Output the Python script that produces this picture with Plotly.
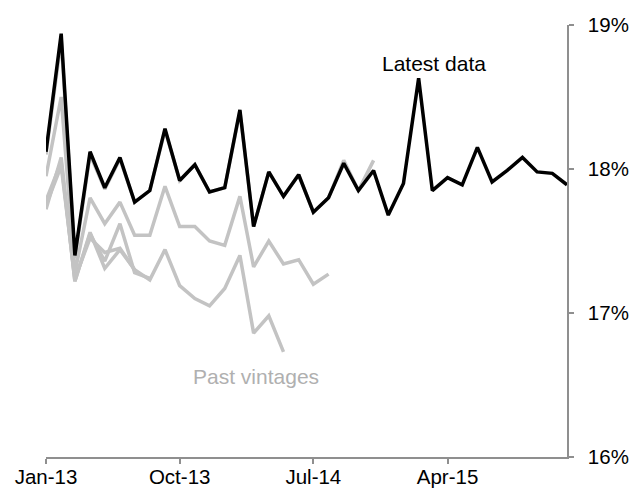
import pandas as pd
import plotly.graph_objects as go

months = pd.date_range("2013-01-01", periods=36, freq="MS")

latest = [18.12, 18.94, 17.40, 18.12, 17.87, 18.08, 17.77, 17.85, 18.28, 17.92,
          18.03, 17.84, 17.87, 18.41, 17.60, 17.98, 17.81, 17.96, 17.70, 17.80,
          18.04, 17.85, 17.99, 17.68, 17.90, 18.63, 17.85, 17.94, 17.89, 18.15,
          17.91, 17.99, 18.08, 17.98, 17.97, 17.89]

vintage_1 = [17.75, 18.02, 17.24, 17.52, 17.42, 17.45, 17.30]
vintage_2 = [17.78, 18.05, 17.22, 17.55, 17.36, 17.62, 17.28, 17.24]
vintage_3 = [17.72, 18.08, 17.22, 17.56, 17.31, 17.44, 17.30, 17.23, 17.44, 17.19,
             17.10, 17.05, 17.17, 17.40, 16.86, 16.98, 16.73]
vintage_4 = [17.95, 18.50, 17.28, 17.80, 17.62, 17.77, 17.54, 17.54, 17.88, 17.60,
             17.60, 17.50, 17.47, 17.81, 17.32, 17.50, 17.34, 17.37, 17.20, 17.27]
vintage_5 = [18.10, 18.90, 17.38, 18.10, 17.86, 18.07, 17.77, 17.85, 18.27, 17.92,
             18.03, 17.84, 17.87, 18.40, 17.60, 17.98, 17.81, 17.96, 17.70, 17.80,
             18.06, 17.85, 18.06]

past_vintages = [vintage_1, vintage_2, vintage_3, vintage_4, vintage_5]

y_ticks = [16, 17, 18, 19]

GREY = "#c3c3c3"
AXIS = "#8f8f8f"
FONT = "Liberation Sans, Arial, sans-serif"

fig = go.Figure()
for v in past_vintages:
    fig.add_trace(go.Scatter(x=months[:len(v)], y=v, mode="lines",
                             line=dict(color=GREY, width=3.5), showlegend=False,
                             hoverinfo="skip"))
fig.add_trace(go.Scatter(x=months, y=latest, mode="lines",
                         line=dict(color="#000000", width=3.5), showlegend=False))

fig.add_annotation(x="2015-03-05", y=18.73, text="Latest data", showarrow=False,
                   font=dict(size=21, color="#000000", family=FONT))
fig.add_annotation(x="2014-03-05", y=16.56, text="Past vintages", showarrow=False,
                   font=dict(size=21, color="#b0b0b0", family=FONT))

fig.update_layout(
    width=639, height=493,
    margin=dict(l=38, r=80, t=17, b=44, autoexpand=False),
    paper_bgcolor="white", plot_bgcolor="white",
    font=dict(family=FONT, size=20, color="#000000"),
    xaxis=dict(type="date", range=[months[0], months[-1]], automargin=False,
               tick0="2013-01-01", dtick="M9", tickformat="%b-%y",
               showgrid=False, zeroline=False, showline=True,
               linecolor=AXIS, linewidth=1.5, ticks="outside", ticklen=5,
               tickcolor=AXIS, tickwidth=1.5, tickfont=dict(size=20.5),
               ticklabelstandoff=-4),
    yaxis=dict(range=[16, 19], side="right", tickvals=y_ticks, automargin=False,
               ticktext=[f"{t}%" for t in y_ticks],
               showgrid=False, zeroline=False, showline=True,
               linecolor=AXIS, linewidth=1.5, ticks="outside", ticklen=5,
               tickcolor=AXIS, tickwidth=1.5, tickfont=dict(size=20.5),
               ticklabelstandoff=10),
)

fig.write_html("out.html")
